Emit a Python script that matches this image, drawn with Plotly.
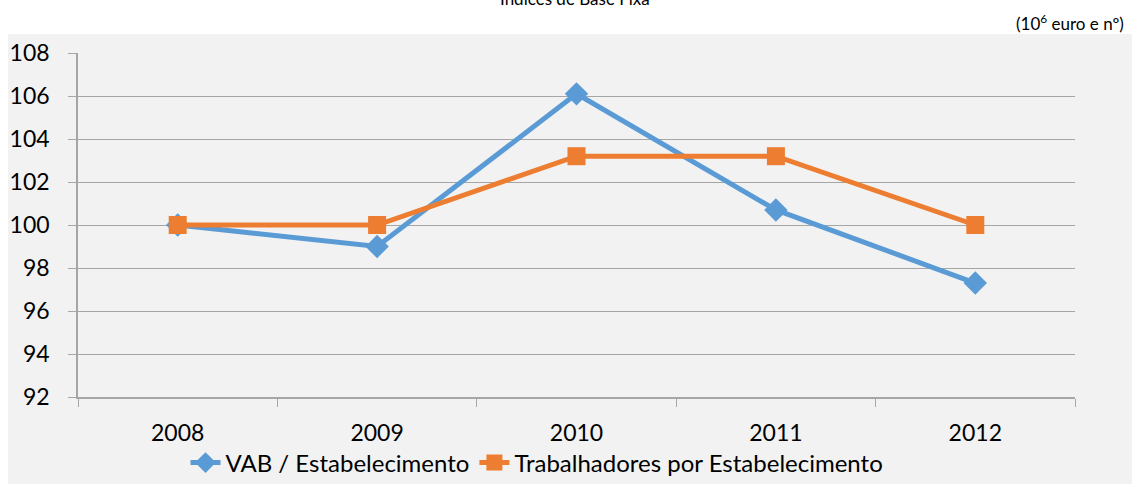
import plotly.graph_objects as go

years = ["2008", "2009", "2010", "2011", "2012"]
vab = [100.0, 99.0, 106.1, 100.7, 97.3]
trab = [100.0, 100.0, 103.2, 103.2, 100.0]
y_ticks = [92, 94, 96, 98, 100, 102, 104, 106, 108]

W, H = 1132, 484
L, R, T, B = 78, 1075, 53, 397

def px(x):
    return (x - L) / (R - L)

def py(y):
    return (B - y) / (B - T)

fig = go.Figure()
fig.add_trace(go.Scatter(x=years, y=vab, name="VAB / Estabelecimento", mode="lines+markers",
                         line=dict(color="#5b9bd5", width=5),
                         marker=dict(symbol="diamond", size=18, color="#5b9bd5")))
fig.add_trace(go.Scatter(x=years, y=trab, name="Trabalhadores por Estabelecimento", mode="lines+markers",
                         line=dict(color="#ed7d31", width=5),
                         marker=dict(symbol="square", size=18, color="#ed7d31")))

fig.update_layout(
    width=W, height=H,
    margin=dict(l=L, r=W - R, t=T, b=H - B, autoexpand=False),
    paper_bgcolor="white", plot_bgcolor="rgba(0,0,0,0)",
    font=dict(family="Lato, Open Sans, sans-serif", size=23, color="#000000"),
    showlegend=True,
    legend=dict(orientation="h", x=px(537), xanchor="center", y=py(463), yanchor="middle",
                font=dict(size=24), bgcolor="rgba(0,0,0,0)"),
    shapes=[dict(type="rect", xref="paper", yref="paper", x0=px(8), x1=px(1132), y0=py(484), y1=py(34),
                 fillcolor="#f2f2f2", line=dict(width=0), layer="below")],
    annotations=[
        dict(text="Índices de Base Fixa", xref="paper", yref="paper", x=px(575), y=py(-1),
             xanchor="center", yanchor="middle", showarrow=False, font=dict(size=17)),
        dict(text="(10<sup>6</sup> euro e nº)", xref="paper", yref="paper", x=px(1126), y=py(22),
             xanchor="right", yanchor="middle", showarrow=False, font=dict(size=17)),
    ],
)
fig.update_xaxes(type="category", range=[-0.5, 4.5], showgrid=False, showline=True, linecolor="#a6a6a6",
                 linewidth=1.5, ticks="outside", tickson="boundaries", ticklen=8, tickcolor="#a6a6a6",
                 tickfont=dict(size=23), zeroline=False, ticklabelstandoff=15, automargin=False)
fig.update_yaxes(range=[92, 108], tickvals=y_ticks, showgrid=True, gridcolor="#a6a6a6", gridwidth=1,
                 showline=True, linecolor="#a6a6a6", linewidth=1.5, ticks="outside", ticklen=8,
                 tickcolor="#a6a6a6", tickfont=dict(size=23), zeroline=False, ticklabelstandoff=14,
                 automargin=False)

fig.write_html("out.html", config={"displayModeBar": False},
               post_script="document.body.style.margin='0';")
